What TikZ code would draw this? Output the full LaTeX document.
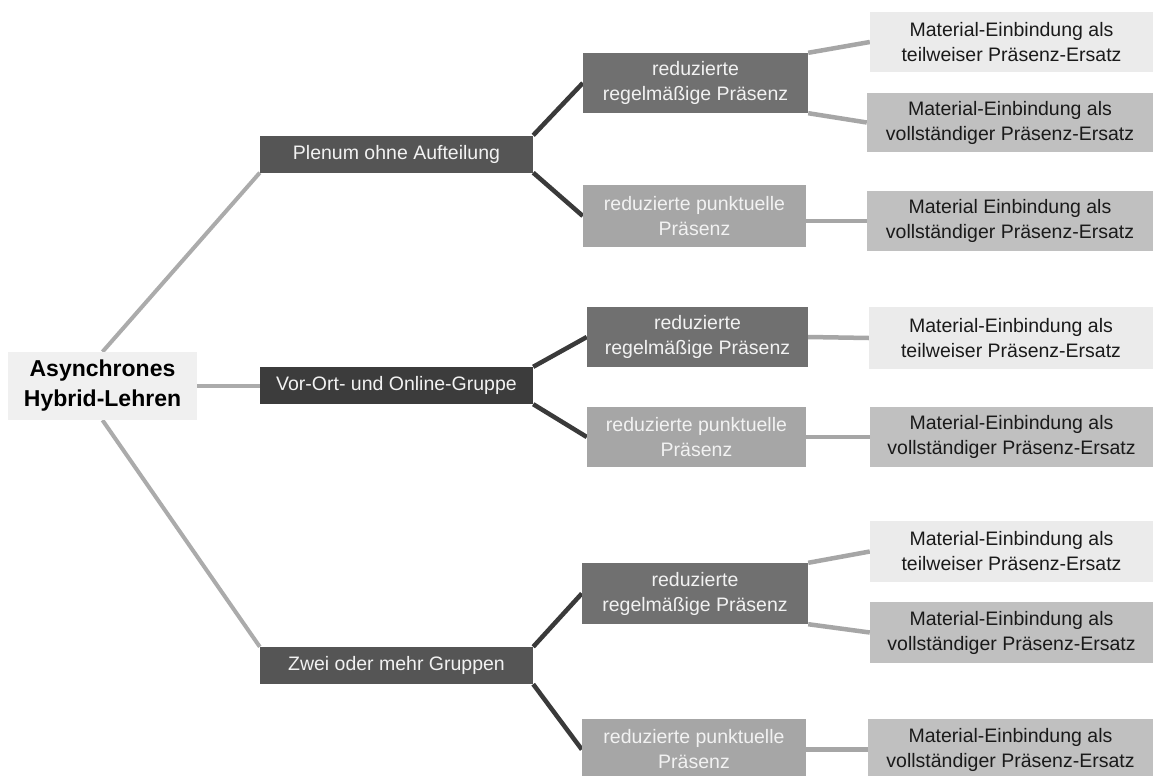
\documentclass[tikz,border=0pt]{standalone}
\usepackage{fontspec}
\setmainfont{Liberation Sans}
\usetikzlibrary{backgrounds}
\definecolor{rootfill}{HTML}{F0F0F0}
\definecolor{lvone}{HTML}{555555}
\definecolor{lvonedark}{HTML}{3C3C3C}
\definecolor{regfill}{HTML}{707070}
\definecolor{punkfill}{HTML}{A6A6A6}
\definecolor{matlight}{HTML}{EBEBEB}
\definecolor{matmid}{HTML}{C0C0C0}
\definecolor{txtlight}{HTML}{F2F2F2}
\definecolor{txtdark}{HTML}{1A1A1A}
\definecolor{lineroot}{HTML}{ABABAB}
\definecolor{linedark}{HTML}{3A3A3A}
\definecolor{linemat}{HTML}{A6A6A6}
\tikzset{
  box/.style={rectangle, inner sep=0pt, align=center, anchor=center,
    font=\fontsize{19.5}{25}\selectfont},
  rootbox/.style={box, fill=rootfill, text=black,
    font=\fontsize{23}{30}\selectfont\bfseries, minimum width=189pt, minimum height=68pt},
  onebox/.style={box, fill=lvone, text=txtlight, minimum width=273pt, minimum height=37pt},
  regbox/.style={box, fill=regfill, text=txtlight},
  punkbox/.style={box, fill=punkfill, text=txtlight},
  matlbox/.style={box, fill=matlight, text=txtdark},
  matmbox/.style={box, fill=matmid, text=txtdark},
  rootline/.style={draw=lineroot, line width=4pt},
  darkline/.style={draw=linedark, line width=4.5pt},
  matline/.style={draw=linemat, line width=4.5pt},
}
\begin{document}
\begin{tikzpicture}[x=1pt,y=-1pt]
\useasboundingbox (0,0) rectangle (1157,776);

% level 0
\node[rootbox] (root) at (102.5,386) {Asynchrones\\Hybrid-Lehren};

% level 1
\node[onebox] (plenum) at (396.5,154) {Plenum ohne Aufteilung};
\node[onebox, fill=lvonedark] (vorort) at (396.5,385.5) {Vor-Ort- und Online-Gruppe};
\node[onebox] (zwei) at (396.5,665.5) {Zwei oder mehr Gruppen};

% level 2
\node[regbox, minimum width=225pt, minimum height=60pt] (regA) at (695.5,83) {reduzierte\\regelmäßige Präsenz};
\node[punkbox, minimum width=223pt, minimum height=62pt] (punkA) at (694.5,216) {reduzierte punktuelle\\Präsenz};
\node[regbox, minimum width=221pt, minimum height=60pt] (regB) at (697.5,337) {reduzierte\\regelmäßige Präsenz};
\node[punkbox, minimum width=219pt, minimum height=60pt] (punkB) at (696.5,437) {reduzierte punktuelle\\Präsenz};
\node[regbox, minimum width=226pt, minimum height=61pt] (regC) at (695,593.5) {reduzierte\\regelmäßige Präsenz};
\node[punkbox, minimum width=224pt, minimum height=61pt] (punkC) at (694,749.5) {reduzierte punktuelle\\Präsenz};

% level 3
\node[matlbox, minimum width=283pt, minimum height=60pt] (mAa) at (1011.5,42) {Material-Einbindung als\\teilweiser Präsenz-Ersatz};
\node[matmbox, minimum width=286pt, minimum height=59pt] (mAb) at (1010,122.5) {Material-Einbindung als\\vollständiger Präsenz-Ersatz};
\node[matmbox, minimum width=286pt, minimum height=60pt] (mAc) at (1010,221) {Material Einbindung als\\vollständiger Präsenz-Ersatz};
\node[matlbox, minimum width=284pt, minimum height=62pt] (mBa) at (1011,338) {Material-Einbindung als\\teilweiser Präsenz-Ersatz};
\node[matmbox, minimum width=283pt, minimum height=60pt] (mBb) at (1011.5,437) {Material-Einbindung als\\vollständiger Präsenz-Ersatz};
\node[matlbox, minimum width=283pt, minimum height=61pt] (mCa) at (1011.5,551.5) {Material-Einbindung als\\teilweiser Präsenz-Ersatz};
\node[matmbox, minimum width=283pt, minimum height=61pt] (mCb) at (1011.5,632.5) {Material-Einbindung als\\vollständiger Präsenz-Ersatz};
\node[matmbox, minimum width=285pt, minimum height=61pt] (mCc) at (1010.5,749.5) {Material-Einbindung als\\vollständiger Präsenz-Ersatz};

% connectors (behind the boxes)
\begin{scope}[on background layer]
\fill[white] (0,0) rectangle (1157,776);
\path[rootline] (root.north) -- (plenum.south west);
\path[rootline] (root.east) -- (root.east -| vorort.west);
\path[rootline] (root.south) -- (zwei.north west);

\path[darkline] (plenum.north east) -- (regA.west);
\path[darkline] (plenum.south east) -- (punkA.west);
\path[darkline] (vorort.north east) -- (regB.west);
\path[darkline] (vorort.south east) -- (punkB.west);
\path[darkline] (zwei.north east) -- (regC.west);
\path[darkline] (zwei.south east) -- (punkC.west);

\path[matline] (regA.north east) -- (mAa.west);
\path[matline] (regA.south east) -- (mAb.west);
\path[matline] (punkA.east |- mAc.west) -- (mAc.west);
\path[matline] (regB.east) -- (mBa.west);
\path[matline] (punkB.east) -- (mBb.west);
\path[matline] (regC.north east) -- (mCa.west);
\path[matline] (regC.south east) -- (mCb.west);
\path[matline] (punkC.east) -- (mCc.west);
\end{scope}
\end{tikzpicture}
\end{document}
